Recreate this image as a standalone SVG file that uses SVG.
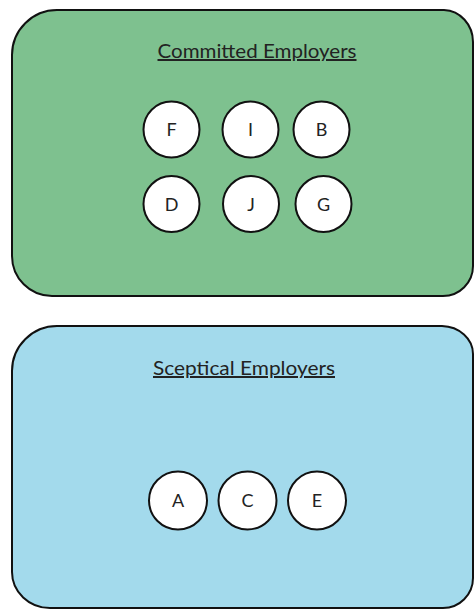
<svg xmlns="http://www.w3.org/2000/svg" width="475" height="610" viewBox="0 0 475 610">
<style>
.box{stroke:#111;stroke-width:2}
.node circle{fill:#fff;stroke:#111;stroke-width:2}
.node text{font-family:"Lato","Liberation Sans",sans-serif;font-size:18px;fill:#222;text-anchor:middle}
.title{font-family:"Lato","Liberation Sans",sans-serif;font-size:20px;fill:#222;text-anchor:middle;text-decoration:underline}
</style>
<rect width="475" height="610" fill="#fff"/>
<g id="committed">
<path class="box" fill="#7ec18f" d="M 57 10 H 444 A 30 32 0 0 1 473 42 V 266 A 30 30 0 0 1 443 296 H 52 A 40 40 0 0 1 12 256 V 55 A 45 45 0 0 1 57 10 Z"/>
<text class="title" x="257" y="58" textLength="199" lengthAdjust="spacingAndGlyphs">Committed Employers</text>
</g>
<g id="sceptical">
<path class="box" fill="#a3daec" d="M 57 326 H 442 A 32 28 0 0 1 473 354 V 578 A 30 30 0 0 1 443 608 H 50 A 38 36 0 0 1 12 572 V 371 A 45 45 0 0 1 57 326 Z"/>
<text class="title" x="244" y="375" textLength="182" lengthAdjust="spacingAndGlyphs">Sceptical Employers</text>
</g>
<g id="F" class="node"><circle cx="171.5" cy="129.5" r="28"/><text x="171.5" y="136">F</text></g>
<g id="I" class="node"><circle cx="250.5" cy="129.5" r="28"/><text x="250.5" y="136">I</text></g>
<g id="B" class="node"><circle cx="321.5" cy="129.5" r="28"/><text x="321.5" y="136">B</text></g>
<g id="D" class="node"><circle cx="171.5" cy="204" r="28"/><text x="171.5" y="210.5">D</text></g>
<g id="J" class="node"><circle cx="251" cy="204" r="28"/><text x="251" y="210.5">J</text></g>
<g id="G" class="node"><circle cx="323.5" cy="204" r="28"/><text x="323.5" y="210.5">G</text></g>
<g id="A" class="node"><circle cx="178" cy="500.5" r="29"/><text x="178" y="507">A</text></g>
<g id="C" class="node"><circle cx="247.5" cy="500.5" r="29"/><text x="247.5" y="507">C</text></g>
<g id="E" class="node"><circle cx="317" cy="500.5" r="29"/><text x="317" y="507">E</text></g>
<g id="connectors"></g>
</svg>
